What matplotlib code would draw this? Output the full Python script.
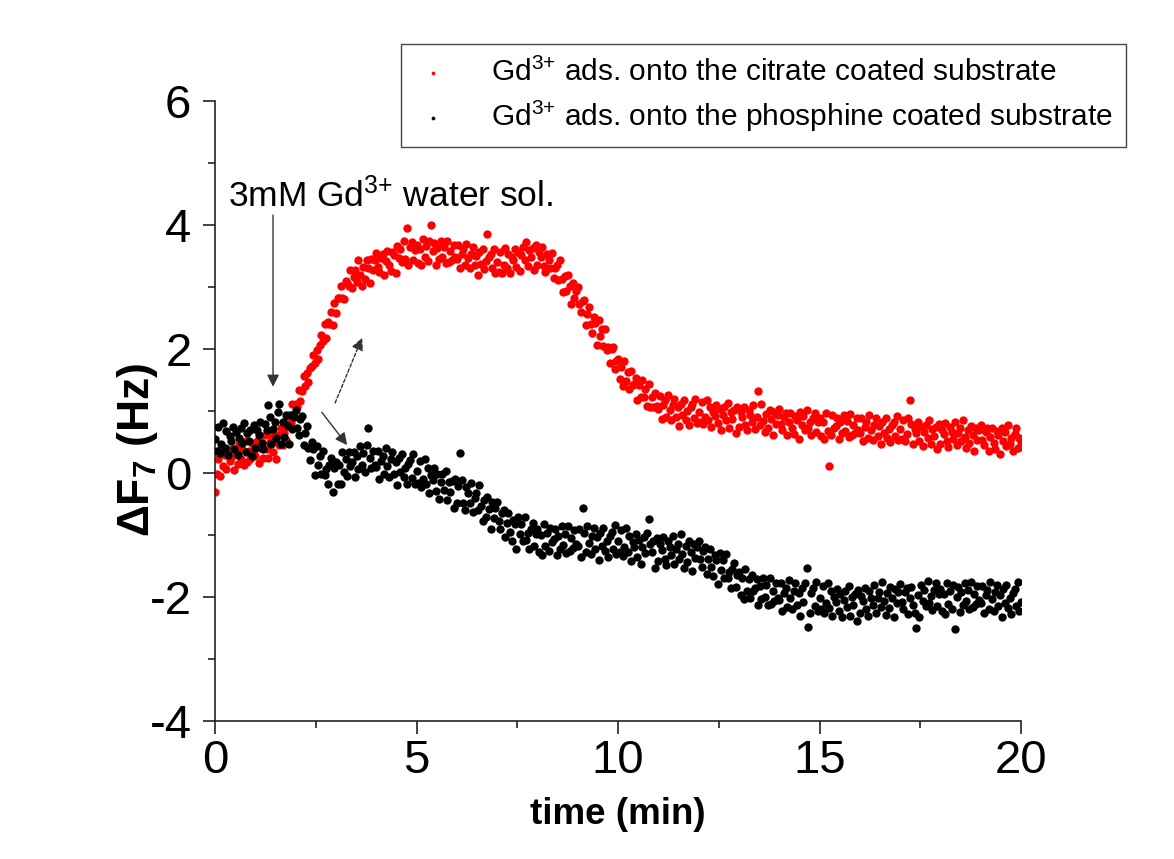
import numpy as np
import matplotlib
matplotlib.use("Agg")
import matplotlib.pyplot as plt

plt.rcParams['font.family'] = ['Liberation Sans', 'DejaVu Sans']
plt.rcParams['mathtext.fontset'] = 'custom'
plt.rcParams['mathtext.rm'] = 'Liberation Sans'
plt.rcParams['mathtext.it'] = 'Liberation Sans:italic'
plt.rcParams['mathtext.bf'] = 'Liberation Sans:bold'
plt.rcParams['axes.unicode_minus'] = False

# ---------------- data ----------------
sample_step_min = 0.04  # one reading every 0.04 min, 0 .. 20 min

citrate_rows = [
    [-0.30, -0.02, 0.22, -0.05, 0.38, 0.11, 0.29, 0.06, 0.38, 0.19, 0.24, 0.38, 0.05, 0.32, 0.15, 0.46, 0.22, 0.38, 0.13, 0.51, 0.18, 0.35, 0.23, 0.48, 0.30],
    [0.28, 0.52, 0.16, 0.40, 0.49, 0.25, 0.62, 0.39, 0.24, 0.50, 0.61, 0.34, 0.51, 0.22, 0.61, 0.45, 0.73, 0.45, 0.64, 0.53, 0.84, 0.94, 0.81, 1.11, 0.92],
    [1.11, 1.06, 1.34, 1.16, 1.32, 1.56, 1.41, 1.62, 1.46, 1.70, 1.72, 1.91, 1.77, 1.99, 1.84, 2.06, 2.22, 2.13, 2.40, 2.18, 2.43, 2.41, 2.59, 2.39, 2.75],
    [2.58, 2.82, 2.83, 3.01, 2.83, 2.81, 3.10, 3.07, 3.01, 3.27, 2.98, 3.16, 3.27, 3.08, 3.44, 3.19, 3.02, 3.33, 3.13, 3.44, 3.30, 3.07, 3.45, 3.27, 3.43],
    [3.55, 3.32, 3.24, 3.47, 3.54, 3.19, 3.42, 3.58, 3.35, 3.26, 3.56, 3.52, 3.22, 3.66, 3.46, 3.62, 3.41, 3.75, 3.45, 3.95, 3.36, 3.64, 3.73, 3.43, 3.60],
    [3.68, 3.38, 3.62, 3.35, 3.77, 3.49, 3.66, 3.42, 3.74, 4.00, 3.58, 3.71, 3.36, 3.63, 3.45, 3.75, 3.49, 3.65, 3.39, 3.75, 3.41, 3.58, 3.44, 3.68, 3.49],
    [3.45, 3.68, 3.30, 3.53, 3.61, 3.35, 3.70, 3.46, 3.30, 3.54, 3.64, 3.35, 3.50, 3.20, 3.56, 3.37, 3.62, 3.29, 3.42, 3.86, 3.48, 3.53, 3.30, 3.61, 3.22],
    [3.41, 3.25, 3.57, 3.22, 3.36, 3.63, 3.31, 3.54, 3.22, 3.49, 3.43, 3.62, 3.33, 3.57, 3.26, 3.51, 3.64, 3.44, 3.73, 3.34, 3.59, 3.48, 3.63, 3.27, 3.67],
    [3.35, 3.57, 3.49, 3.65, 3.34, 3.24, 3.54, 3.44, 3.30, 3.55, 3.14, 3.30, 3.36, 3.12, 3.43, 3.13, 2.92, 3.18, 2.93, 3.19, 3.01, 2.73, 3.06, 2.83, 2.94],
    [3.00, 2.72, 2.59, 2.77, 2.79, 2.39, 2.57, 2.68, 2.40, 2.26, 2.51, 2.42, 2.07, 2.46, 2.21, 2.32, 2.05, 2.33, 1.98, 2.03, 1.78, 2.00, 2.04, 1.68, 1.81],
    [1.84, 1.51, 1.71, 1.41, 1.80, 1.49, 1.63, 1.36, 1.65, 1.42, 1.44, 1.54, 1.18, 1.42, 1.22, 1.50, 1.22, 1.36, 1.08, 1.43, 1.07, 1.22, 1.07, 1.29, 1.08],
    [1.03, 1.25, 0.87, 1.10, 1.17, 0.91, 1.26, 1.01, 0.85, 1.10, 1.19, 0.91, 1.06, 0.76, 1.12, 0.94, 1.18, 0.86, 1.00, 0.78, 1.06, 1.12, 0.88, 1.20, 0.81],
    [0.99, 0.83, 1.14, 0.79, 0.91, 1.17, 0.85, 1.07, 0.74, 0.99, 0.92, 1.10, 0.80, 1.03, 0.70, 0.94, 1.06, 0.85, 1.13, 0.73, 0.98, 0.87, 1.02, 0.65, 1.06],
    [0.75, 0.98, 0.90, 1.07, 0.78, 0.70, 1.01, 0.93, 0.82, 1.10, 0.71, 0.90, 1.33, 0.78, 1.11, 0.84, 0.66, 0.95, 0.73, 1.02, 0.87, 0.62, 0.98, 0.79, 0.94],
    [1.03, 0.79, 0.70, 0.91, 0.97, 0.61, 0.83, 0.97, 0.73, 0.63, 0.92, 0.86, 0.55, 0.98, 0.77, 0.92, 0.69, 1.02, 0.72, 0.82, 0.62, 0.88, 0.97, 0.66, 0.83],
    [0.89, 0.59, 0.82, 0.55, 0.96, 0.68, 0.12, 0.61, 0.93, 0.73, 0.76, 0.89, 0.55, 0.82, 0.64, 0.94, 0.68, 0.84, 0.58, 0.95, 0.61, 0.77, 0.64, 0.88, 0.69],
    [0.65, 0.88, 0.51, 0.75, 0.82, 0.57, 0.93, 0.69, 0.54, 0.78, 0.88, 0.60, 0.76, 0.46, 0.83, 0.64, 0.89, 0.57, 0.71, 0.50, 0.78, 0.83, 0.60, 0.92, 0.53],
    [0.71, 0.55, 0.86, 0.51, 0.63, 0.89, 1.18, 0.79, 0.46, 0.71, 0.64, 0.82, 0.52, 0.75, 0.43, 0.66, 0.78, 0.57, 0.85, 0.46, 0.71, 0.59, 0.74, 0.38, 0.79],
    [0.47, 0.70, 0.63, 0.80, 0.51, 0.42, 0.74, 0.66, 0.55, 0.83, 0.45, 0.64, 0.72, 0.51, 0.85, 0.58, 0.40, 0.69, 0.48, 0.76, 0.61, 0.36, 0.73, 0.54, 0.69],
    [0.78, 0.54, 0.45, 0.66, 0.72, 0.36, 0.58, 0.72, 0.48, 0.38, 0.67, 0.61, 0.30, 0.73, 0.52, 0.66, 0.44, 0.77, 0.47, 0.56, 0.36, 0.63, 0.72, 0.40, 0.57],
    [0.50],
]

phosphine_rows = [
    [0.55, 0.36, 0.74, 0.32, 0.47, 0.80, 0.41, 0.68, 0.29, 0.60, 0.52, 0.74, 0.38, 0.66, 0.29, 0.57, 0.72, 0.48, 0.81, 0.34, 0.65, 0.52, 0.70, 0.28, 0.77],
    [0.40, 0.69, 0.61, 0.83, 0.49, 0.39, 0.79, 0.70, 1.10, 0.91, 0.47, 0.71, 0.82, 0.57, 0.99, 1.12, 0.47, 0.83, 0.58, 0.93, 0.76, 0.47, 0.93, 0.71, 0.90],
    [1.02, 0.73, 0.61, 0.87, 0.92, 0.45, 0.65, 0.76, 0.40, 0.21, 0.50, 0.38, -0.04, 0.43, 0.13, 0.27, -0.02, 0.35, -0.03, 0.07, -0.18, 0.13, 0.24, -0.30, 0.08],
    [0.17, -0.17, 0.13, -0.17, 0.34, 0.01, 0.23, -0.05, 0.34, 0.11, 0.17, 0.34, -0.06, 0.27, 0.06, 0.43, 0.13, 0.32, 0.01, 0.45, 0.72, 0.24, 0.08, 0.36, 0.13],
    [0.09, 0.36, -0.09, 0.20, 0.28, -0.02, 0.40, 0.12, -0.07, 0.22, 0.34, -0.01, 0.17, -0.19, 0.25, 0.02, 0.31, -0.07, 0.08, -0.18, 0.15, 0.21, -0.08, 0.30, -0.18],
    [0.04, -0.16, 0.20, -0.23, -0.09, 0.22, -0.18, 0.08, -0.33, -0.03, -0.12, 0.08, -0.29, -0.02, -0.42, -0.15, -0.01, -0.27, 0.04, -0.44, -0.15, -0.30, -0.13, -0.57, -0.10],
    [-0.48, -0.21, 0.33, -0.12, -0.48, -0.59, -0.22, -0.33, -0.48, -0.16, -0.63, -0.41, -0.33, -0.59, -0.20, -0.54, -0.77, -0.44, -0.71, -0.38, -0.58, -0.90, -0.47, -0.72, -0.56],
    [-0.46, -0.77, -0.90, -0.65, -0.60, -1.04, -0.80, -0.64, -0.95, -1.09, -0.75, -0.83, -1.22, -0.71, -0.99, -0.82, -1.09, -0.71, -1.08, -0.97, -1.22, -0.91, -0.80, -1.18, -0.98],
    [-0.91, -1.27, -1.00, -1.32, -0.82, -1.17, -0.96, -1.25, -0.88, -1.12, -1.07, -0.91, -1.33, -1.01, -1.22, -0.86, -1.16, -0.98, -1.29, -0.85, -1.26, -1.05, -1.21, -0.92, -1.15],
    [-1.18, -0.91, -1.35, -0.56, -0.97, -1.28, -0.85, -1.13, -1.31, -1.01, -0.89, -1.23, -1.04, -1.41, -0.96, -1.18, -0.88, -1.26, -1.10, -1.35, -1.02, -0.95, -1.23, -0.84, -1.31],
    [-1.09, -1.28, -0.92, -1.34, -1.20, -0.88, -1.28, -1.01, -1.42, -1.11, -1.19, -0.99, -1.35, -1.08, -1.46, -1.19, -1.04, -1.29, -0.97, -0.74, -1.15, -1.28, -1.10, -1.54, -1.05],
    [-1.42, -1.15, -1.24, -1.03, -1.38, -1.49, -1.10, -1.20, -1.33, -1.01, -1.46, -1.23, -1.14, -1.39, -0.98, -1.30, -1.53, -1.18, -1.43, -1.10, -1.28, -1.58, -1.14, -1.37, -1.20],
    [-1.09, -1.39, -1.51, -1.25, -1.19, -1.63, -1.38, -1.22, -1.52, -1.66, -1.32, -1.40, -1.79, -1.29, -1.57, -1.41, -1.69, -1.31, -1.69, -1.59, -1.85, -1.55, -1.45, -1.84, -1.65],
    [-1.59, -1.97, -1.70, -2.04, -1.55, -1.91, -1.71, -2.01, -1.65, -1.90, -1.86, -1.71, -2.13, -1.82, -2.04, -1.69, -2.00, -1.81, -2.13, -1.69, -2.11, -1.90, -2.07, -1.78, -2.01],
    [-2.05, -1.78, -2.23, -1.94, -1.85, -2.16, -1.73, -2.01, -2.20, -1.90, -1.78, -2.13, -1.94, -2.30, -1.86, -2.08, -1.78, -1.53, -2.48, -2.26, -1.93, -1.86, -2.14, -1.76, -2.23],
    [-2.01, -2.20, -1.83, -2.25, -2.10, -1.78, -2.17, -1.90, -2.31, -2.00, -2.08, -1.87, -2.23, -1.95, -2.33, -2.05, -1.91, -2.16, -1.83, -2.30, -2.00, -2.13, -1.95, -2.38, -1.89],
    [-2.26, -1.98, -2.07, -1.85, -2.20, -2.30, -1.91, -2.01, -2.13, -1.80, -2.25, -2.02, -1.92, -2.16, -1.75, -2.07, -2.29, -1.94, -2.18, -1.84, -2.02, -2.32, -1.87, -2.10, -1.92],
    [-1.79, -2.08, -2.19, -1.92, -1.85, -2.28, -2.02, -1.84, -2.13, -2.25, -2.50, -1.96, -2.32, -1.80, -2.06, -1.88, -2.14, -1.74, -2.10, -1.98, -2.21, -1.89, -1.78, -2.15, -1.95],
    [-1.87, -2.23, -1.95, -2.27, -1.77, -2.11, -1.90, -2.19, -1.81, -2.52, -2.00, -1.84, -2.24, -1.92, -2.13, -1.77, -2.07, -1.88, -2.19, -1.75, -2.16, -1.95, -2.11, -1.82, -2.05],
    [-2.09, -1.82, -2.26, -1.97, -1.88, -2.19, -1.76, -2.04, -2.22, -1.92, -1.81, -2.15, -1.96, -2.32, -1.87, -2.10, -1.80, -2.18, -2.02, -2.27, -1.94, -1.87, -2.15, -1.76, -2.23],
    [-2.08],
]

legend_labels = [r"Gd$^{3{+}}$ ads. onto the citrate coated substrate",
                 r"Gd$^{3{+}}$ ads. onto the phosphine coated substrate"]
annotation_text = r"3mM Gd$^{3{+}}$ water sol."
x_ticks = [0, 5, 10, 15, 20]
y_ticks = [-4, -2, 0, 2, 4, 6]

citrate = np.array([v for row in citrate_rows for v in row])
phosphine = np.array([v for row in phosphine_rows for v in row])
time_c = np.arange(len(citrate)) * sample_step_min
time_p = np.arange(len(phosphine)) * sample_step_min

# ---------------- figure ----------------
fig = plt.figure(figsize=(11.74, 8.59), dpi=100)
W, H = 1174, 859
ax = fig.add_axes([215 / W, 1 - 721 / H, (1021 - 215) / W, (721 - 101) / H])

ax.scatter(time_c, citrate, s=36, color='#ff0000', marker='o', linewidths=0,
           label=legend_labels[0], zorder=2)
ax.scatter(time_p, phosphine, s=36, color='black', marker='o', linewidths=0,
           label=legend_labels[1], zorder=3)

ax.set_xlim(0, 20)
ax.set_ylim(-4, 6)
ax.set_xticks(x_ticks)
ax.set_yticks(y_ticks)
ax.set_xticks([2.5, 7.5, 12.5, 17.5], minor=True)
ax.set_yticks([-3, -1, 1, 3, 5], minor=True)

for side in ('top', 'right'):
    ax.spines[side].set_visible(False)
for side in ('left', 'bottom'):
    ax.spines[side].set_linewidth(1.2)
    ax.spines[side].set_color('#222222')

ax.tick_params(axis='both', which='major', direction='out', length=9, width=1.2,
               color='#222222', labelsize=34)
ax.tick_params(axis='both', which='minor', direction='out', length=5, width=1.2,
               color='#222222')
ax.tick_params(axis='x', which='major', pad=4)
ax.tick_params(axis='y', which='major', pad=8)

ax.set_xlabel("time (min)", fontsize=26.5, fontweight='bold', labelpad=10)
ax.set_ylabel(r"ΔF$_{\mathbf{7}}$ (Hz)", fontsize=32, fontweight='bold')
ax.yaxis.set_label_coords(-0.068, 0.437)

# annotation and arrows
ax.text(0.32, 4.48, annotation_text, fontsize=25.5, ha='left', va='center')
ax.annotate("", xy=(1.44, 1.39), xytext=(1.44, 4.16),
            arrowprops=dict(arrowstyle='-|>', lw=1.0, color='#333333',
                            mutation_scale=18, shrinkA=0, shrinkB=0))
ax.annotate("", xy=(3.65, 2.18), xytext=(2.98, 1.13),
            arrowprops=dict(arrowstyle='-|>', lw=1.0, color='#333333',
                            linestyle=(0, (2.5, 1.5)),
                            mutation_scale=18, shrinkA=0, shrinkB=0))
ax.annotate("", xy=(3.28, 0.45), xytext=(2.65, 0.98),
            arrowprops=dict(arrowstyle='-|>', lw=1.0, color='#333333',
                            mutation_scale=18, shrinkA=0, shrinkB=0))

leg = ax.legend(loc='upper right', bbox_to_anchor=(1126 / W, 1 - 44 / H),
                bbox_transform=fig.transFigure, fontsize=21.5, frameon=True,
                fancybox=False, edgecolor='#444444', framealpha=1,
                markerscale=0.45, scatterpoints=1, handlelength=1.2,
                handletextpad=1.35, borderpad=0.45, labelspacing=0.4,
                borderaxespad=0)
leg.get_frame().set_linewidth(1.0)

fig.savefig("out.png", dpi=100)
